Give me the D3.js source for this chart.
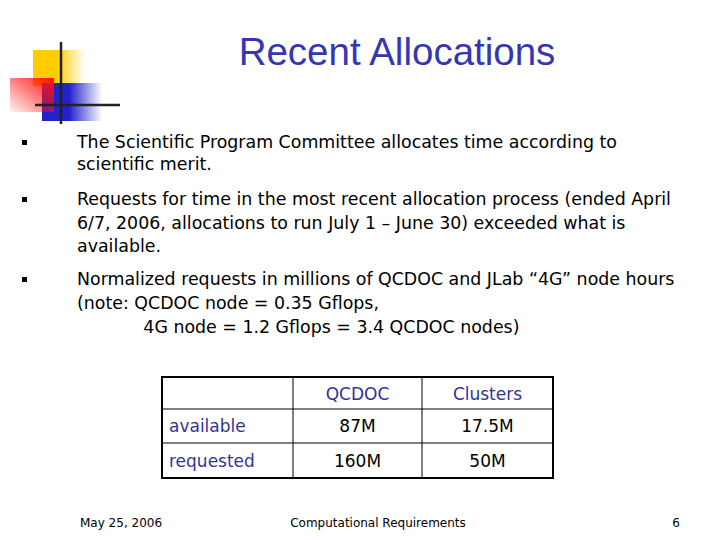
<!DOCTYPE html><html><head><meta charset="utf-8"><script src="https://cdn.jsdelivr.net/npm/d3@7"></script>
<style>body{margin:0;background:#fff}</style></head><body><script>
const title="Recent Allocations";
const bullets=[
 ["The Scientific Program Committee allocates time according to","scientific merit."],
 ["Requests for time in the most recent allocation process (ended April","6/7, 2006, allocations to run July 1 \u2013 June 30) exceeded what is","available."],
 ["Normalized requests in millions of QCDOC and JLab \u201c4G\u201d node hours","(note: QCDOC node = 0.35 Gflops,","            4G node = 1.2 Gflops = 3.4 QCDOC nodes)"]];
const columns=["","QCDOC","Clusters"];
const rows=["available","requested"];
const qcdoc=["87M","160M"];
const clusters=["17.5M","50M"];
const footer=["May 25, 2006","Computational Requirements","6"];

const svg=d3.select("body").append("svg").attr("width",720).attr("height",540);
const defs=svg.append("defs");
function grad(id,c){const g=defs.append("linearGradient").attr("id",id);
 g.append("stop").attr("offset","0%").attr("stop-color",c);
 g.append("stop").attr("offset","45%").attr("stop-color",c);
 g.append("stop").attr("offset","100%").attr("stop-color",c).attr("stop-opacity",0);}
grad("gy","#ffcc00");grad("gb","#2222cc");
const gr=defs.append("linearGradient").attr("id","gr").attr("x1","1").attr("x2","0").attr("y1","0").attr("y2","1");
gr.append("stop").attr("offset","0%").attr("stop-color","#ff1010");gr.append("stop").attr("offset","100%").attr("stop-color","#ff1010").attr("stop-opacity",0.05);
svg.append("rect").attr("x",33).attr("y",50).attr("width",52).attr("height",36).attr("fill","url(#gy)");
svg.append("rect").attr("x",42).attr("y",83).attr("width",60).attr("height",38).attr("fill","url(#gb)");
svg.append("rect").attr("x",10).attr("y",78).attr("width",44).attr("height",34).attr("fill","url(#gr)");
svg.append("line").attr("x1",61).attr("x2",61).attr("y1",42).attr("y2",124).attr("stroke","#222").attr("stroke-width",2.5);
svg.append("line").attr("x1",35).attr("x2",120).attr("y1",105).attr("y2",105).attr("stroke","#222").attr("stroke-width",2.5);

svg.append("text").attr("x",397).attr("y",65).attr("text-anchor","middle").attr("font-family","Liberation Sans, Arial").attr("font-size",38.5).attr("fill","#3636b0").text(title);

const ff="DejaVu Sans, Verdana, sans-serif";
const starts=[148,205,285], lh=[22,23.5,24];
bullets.forEach((b,i)=>{
 svg.append("rect").attr("x",22).attr("y",starts[i]-8).attr("width",5).attr("height",5).attr("fill","#000");
 b.forEach((l,j)=>svg.append("text").attr("x",77).attr("y",starts[i]+j*lh[i]).attr("font-family",ff).attr("font-size",17.4).style("white-space","pre").attr("fill","#000").text(l));
});

const x=d3.scaleOrdinal().domain(columns).range([162,293,422]);
const colW=[131,129,131];
const ys=[377,409,443,478];
const tg=svg.append("g");
tg.append("rect").attr("x",162).attr("y",377).attr("width",391).attr("height",101).attr("fill","none").attr("stroke","#000").attr("stroke-width",2);
[293,422].forEach(v=>tg.append("line").attr("x1",v).attr("x2",v).attr("y1",377).attr("y2",478).attr("stroke","#000"));
[409,443].forEach(v=>tg.append("line").attr("x1",162).attr("x2",553).attr("y1",v).attr("y2",v).attr("stroke","#000"));
columns.forEach((c,i)=>{if(!c)return;tg.append("text").attr("x",x(c)+colW[i]/2).attr("y",400).attr("text-anchor","middle").attr("font-family",ff).attr("font-size",17).attr("fill","#333399").text(c);});
rows.forEach((r,i)=>{const y=(ys[i+1]+ys[i+2])/2+6;
 tg.append("text").attr("x",169).attr("y",y).attr("font-family",ff).attr("font-size",17).attr("fill","#333399").text(r);
 tg.append("text").attr("x",x("QCDOC")+colW[1]/2).attr("y",y).attr("text-anchor","middle").attr("font-family",ff).attr("font-size",17).text(qcdoc[i]);
 tg.append("text").attr("x",x("Clusters")+colW[2]/2).attr("y",y).attr("text-anchor","middle").attr("font-family",ff).attr("font-size",17).text(clusters[i]);
});
svg.append("text").attr("x",80).attr("y",527).attr("font-family",ff).attr("font-size",12).text(footer[0]);
svg.append("text").attr("x",378).attr("y",527).attr("text-anchor","middle").attr("font-family",ff).attr("font-size",12).text(footer[1]);
svg.append("text").attr("x",676).attr("y",527).attr("text-anchor","middle").attr("font-family",ff).attr("font-size",12).text(footer[2]);
</script></body></html>
